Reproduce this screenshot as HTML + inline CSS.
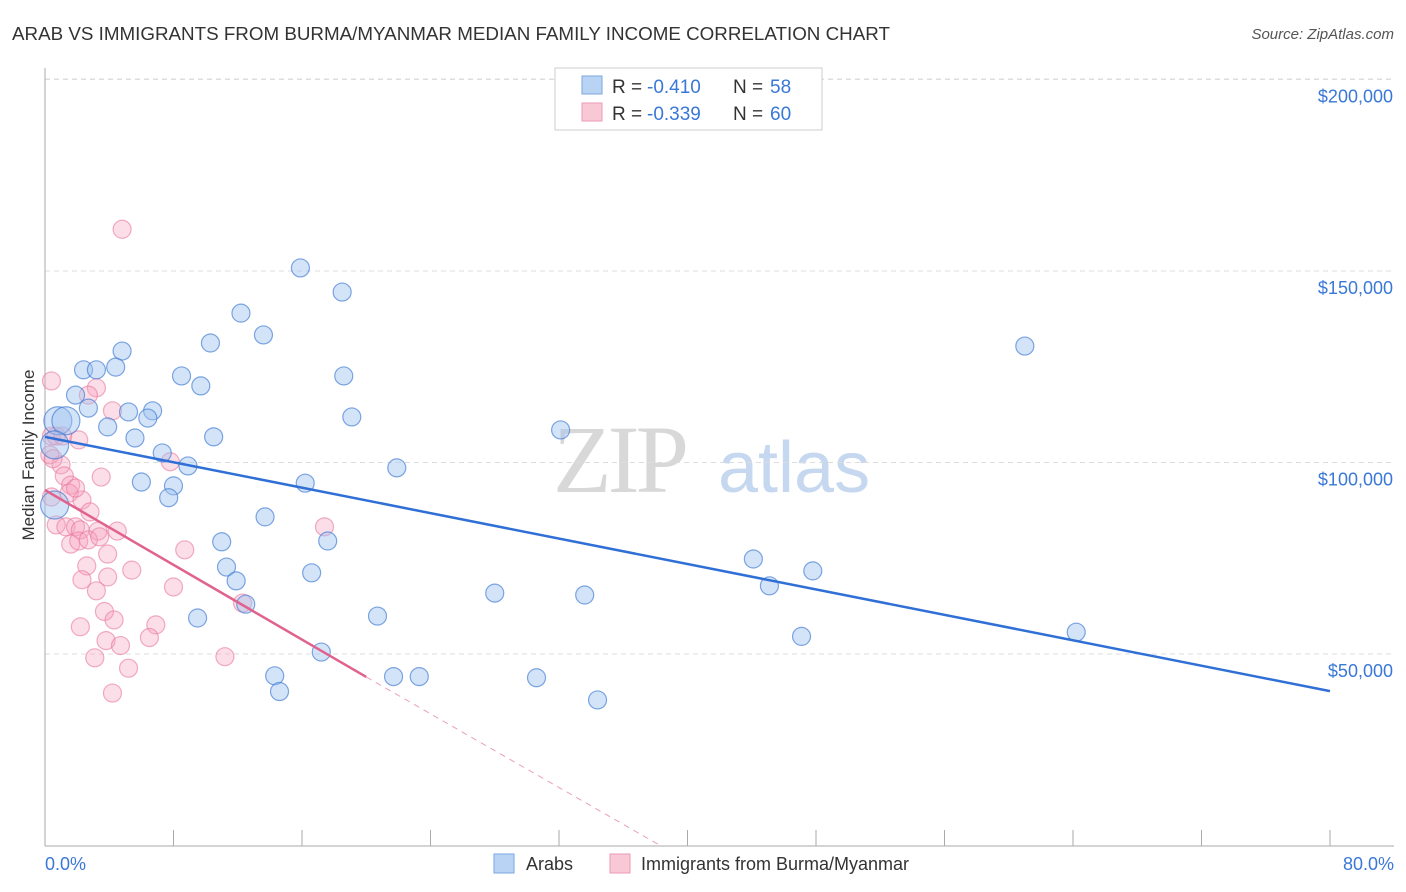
<!DOCTYPE html>
<html><head><meta charset="utf-8"><style>
body{margin:0;background:#fff;font-family:"Liberation Sans",sans-serif}
svg{display:block}
</style></head><body>
<svg id="chart" width="1406" height="892">
<text x="12" y="40" font-size="18.8" fill="#333">ARAB VS IMMIGRANTS FROM BURMA/MYANMAR MEDIAN FAMILY INCOME CORRELATION CHART</text>
<text x="1394" y="39" font-size="15" fill="#555" text-anchor="end" font-style="italic">Source: ZipAtlas.com</text>
<g>
<text x="553" y="492" font-size="96" fill="#d8d8d8" font-family="Liberation Serif,serif" letter-spacing="-4">ZIP</text>
<text x="718" y="492" font-size="72" fill="#c5d8ef">atlas</text>
</g>
<g id="grid"></g>
<g id="axes"></g>
<g id="pts"></g>
<g id="lines"></g>
<text transform="translate(34,455) rotate(-90)" font-size="17" fill="#333" text-anchor="middle">Median Family Income</text>
<g>
<rect x="555" y="68" width="267" height="62" fill="#fff" stroke="#ccc"/>
<rect x="582" y="76" width="20" height="18" fill="#b9d3f5" stroke="#7aa7e0"/>
<rect x="582" y="103" width="20" height="18" fill="#f9c8d6" stroke="#ec9ab4"/>
<text x="612" y="93" font-size="19" fill="#333">R =</text>
<text x="647" y="93" font-size="19" fill="#3a78d8">-0.410</text>
<text x="733" y="93" font-size="19" fill="#333">N =</text>
<text x="770" y="93" font-size="19" fill="#3a78d8">58</text>
<text x="612" y="120" font-size="19" fill="#333">R =</text>
<text x="647" y="120" font-size="19" fill="#3a78d8">-0.339</text>
<text x="733" y="120" font-size="19" fill="#333">N =</text>
<text x="770" y="120" font-size="19" fill="#3a78d8">60</text>
</g>
<g>
<rect x="494" y="854" width="20" height="19" fill="#b9d3f5" stroke="#7aa7e0"/>
<text x="526" y="870" font-size="18" fill="#333">Arabs</text>
<rect x="610" y="854" width="20" height="19" fill="#f9c8d6" stroke="#ec9ab4"/>
<text x="641" y="870" font-size="18" fill="#333">Immigrants from Burma/Myanmar</text>
</g>
</svg>
<script>
const yTicks=[50000,100000,150000,200000];
const yTickLabels=["$50,000","$100,000","$150,000","$200,000"];
const xTicks=[0,8,16,24,32,40,48,56,64,72,80];
const arabX=[15.9,18.5,12.2,13.6,10.3,4.8,61.0,2.4,3.2,4.4,8.5,18.6,9.7,1.9,2.7,5.2,6.7,6.4,19.1,0.8,1.3,3.9,5.6,10.5,32.1,0.6,7.3,8.9,21.9,6.0,16.2,8.0,7.7,0.6,13.7,11.0,17.6,11.3,16.6,11.9,44.1,45.1,47.8,20.7,28.0,33.6,9.5,12.5,64.2,47.1,17.2,14.3,21.7,23.3,30.6,14.6,34.4];
const arabY=[150.8,144.5,139.0,133.3,131.2,129.1,130.4,124.2,124.2,124.9,122.6,122.6,120.0,117.6,114.2,113.2,113.5,111.6,111.9,110.9,110.9,109.3,106.4,106.7,108.5,104.6,102.5,99.1,98.6,94.9,94.6,93.9,90.8,88.9,85.8,79.3,79.5,72.7,71.2,69.1,74.8,67.8,71.7,59.9,65.9,65.4,59.4,63.0,55.7,54.6,50.5,44.3,44.1,44.1,43.8,40.2,38.0];
const arabBig=[19,20,25,33];
const burmaX=[4.8,0.4,3.2,2.7,4.2,2.1,0.4,0.7,1.1,0.3,1.0,7.8,1.2,1.6,3.5,1.5,2.3,1.9,2.8,0.7,1.3,1.9,2.2,4.5,3.3,1.6,2.1,2.7,3.4,17.4,2.6,3.9,8.7,5.4,2.3,3.9,8.0,3.2,3.7,4.3,12.3,2.2,6.9,6.5,3.8,4.7,3.1,5.2,11.2,4.2,0.4,0.5];
const burmaY=[160.9,121.3,119.5,117.6,113.5,105.9,106.9,106.9,106.9,102.0,99.4,100.2,96.5,94.1,96.2,92.0,90.2,93.3,87.1,83.7,83.2,83.2,82.4,82.1,82.1,78.7,79.5,79.8,80.6,83.2,73.0,76.1,77.2,71.9,69.4,70.1,67.5,66.5,61.1,58.9,63.3,57.1,57.6,54.3,53.5,52.2,49.0,46.3,49.3,39.8,91.0,101.0];
const arabLine=[[0,106.7],[80,40.3]];
const burmaLine=[[0,92.8],[20.0,44.0]];
const burmaDash=[[20.0,44.0],[38.3,0]];
const X=v=>45+v/80*1285;
const Y=v=>845.5-v/50*191.5;
const NS="http://www.w3.org/2000/svg";
function mk(parent,tag,attrs){const e=document.createElementNS(NS,tag);for(const k in attrs)e.setAttribute(k,attrs[k]);document.getElementById(parent).appendChild(e);return e;}
yTicks.forEach((t,i)=>{
 const g=mk('grid','line',{x1:45,x2:1394,y1:Y(t/1000),y2:Y(t/1000),stroke:'#ddd','stroke-dasharray':'5,4'});
 
 
 const l=mk('grid','text',{x:1393,y:Y(t/1000)+23,'font-size':18,fill:'#3a78d8','text-anchor':'end'});
 l.textContent=yTickLabels[i];
 
 
});
const topGrid=mk('grid','line',{x1:45,x2:1394,y1:79,y2:79,stroke:'#ddd','stroke-dasharray':'5,4'});


const ya=mk('axes','line',{x1:45,x2:45,y1:68,y2:846,stroke:'#aaa'});


const xa=mk('axes','line',{x1:45,x2:1394,y1:846,y2:846,stroke:'#aaa'});


xTicks.forEach(t=>{
 const tk=mk('axes','line',{x1:X(t),x2:X(t),y1:830,y2:846,stroke:'#aaa'});
 
 
});
const xl0=mk('axes','text',{x:45,y:870,'font-size':18,fill:'#3a78d8'});xl0.textContent=xTicks[0].toFixed(1)+'%';


const xl1=mk('axes','text',{x:1394,y:870,'font-size':18,fill:'#3a78d8','text-anchor':'end'});xl1.textContent=xTicks[xTicks.length-1].toFixed(1)+'%';


burmaX.forEach((x,i)=>{
 const c=mk('pts','circle',{cx:X(x),cy:Y(burmaY[i]),r:9,fill:'rgba(245,160,188,0.35)',stroke:'rgba(232,120,156,0.6)','stroke-width':1.2});
 
 
});
arabX.forEach((x,i)=>{
 const r=arabBig.includes(i)?14:9;
 const c=mk('pts','circle',{cx:X(x),cy:Y(arabY[i]),r:r,fill:'rgba(160,196,240,0.45)',stroke:'rgba(60,120,210,0.65)','stroke-width':1.2});
 
 
});
const la=mk('lines','line',{x1:X(arabLine[0][0]),y1:Y(arabLine[0][1]),x2:X(arabLine[1][0]),y2:Y(arabLine[1][1]),stroke:'#2f6fd6','stroke-width':2.5});


const lb=mk('lines','line',{x1:X(burmaLine[0][0]),y1:Y(burmaLine[0][1]),x2:X(burmaLine[1][0]),y2:Y(burmaLine[1][1]),stroke:'#e0628e','stroke-width':2.5});


const ld=mk('lines','line',{x1:X(burmaDash[0][0]),y1:Y(burmaDash[0][1]),x2:X(burmaDash[1][0]),y2:Y(burmaDash[1][1]),stroke:'#eaa0b8','stroke-width':1,'stroke-dasharray':'6,5'});


</script>
</body></html>
